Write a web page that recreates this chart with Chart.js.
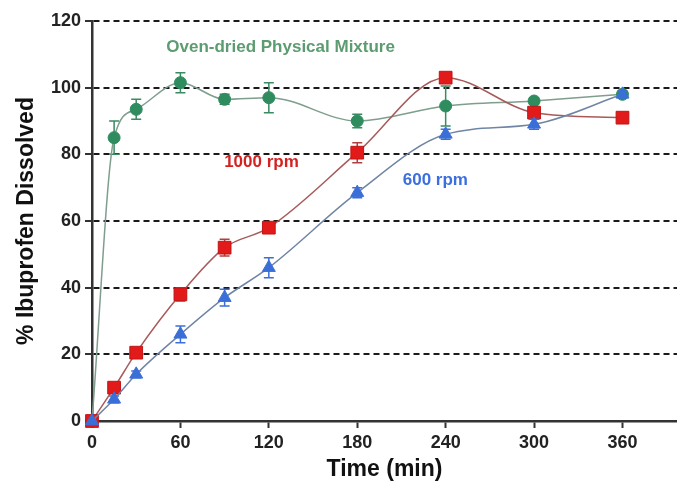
<!DOCTYPE html>
<html>
<head>
<meta charset="utf-8">
<script src="https://cdn.jsdelivr.net/npm/chart.js@4/dist/chart.umd.min.js"></script>
<style>
  html, body { margin: 0; padding: 0; background: #fff; }
  #chart { display: block; }
</style>
</head>
<body>
<canvas id="chart" width="677" height="484"></canvas>
<script>
// time points (min)
var times = [0, 15, 30, 60, 90, 120, 180, 240, 300, 360];
var xTicks = [0, 60, 120, 180, 240, 300, 360];
var yTicks = [0, 20, 40, 60, 80, 100, 120];

// % dissolved
var ovenDried = [0, 85, 93.5, 101.5, 96.5, 97, 90, 94.5, 96, 98];
var ovenDriedErr = [0, 5, 3, 3, 1.5, 4.5, 2, 6, 1, 0.5];
var rpm1000 = [0, 10, 20.5, 38, 52, 58, 80.5, 103, 92.5, 91];
var rpm1000Err = [0, 1, 1, 2, 2.5, 1, 3, 1, 1, 0.5];
var rpm600 = [0, 6.5, 14, 26, 37, 46, 68.5, 86, 89, 98];
var rpm600Err = [0, 1, 1, 2.5, 2.5, 3, 1.5, 1.5, 1.5, 1];

var labelsText = [
    {text: 'Oven-dried Physical Mixture', x: 128, y: 112.2, color: '#5c9c70'},
    {text: '1000 rpm', x: 115, y: 77.7, color: '#d42222'},
    {text: '600 rpm', x: 233, y: 72.3, color: '#3b6fe0'}
];

function toPoints(ys){
    var pts = [];
    for(var i=0; i<times.length; i++){
        pts.push({x: times[i], y: ys[i]});
    }
    return pts;
}

// draws the error bars of one dataset under its line and markers
var errorBars = {
    id: 'errorBars',
    beforeDatasetDraw: function(chart, args){
        var ds = chart.data.datasets[args.index];
        if(!ds.errors) return;
        var ctx = chart.ctx;
        var xs = chart.scales.x, ys = chart.scales.y;
        ctx.save();
        ctx.strokeStyle = ds.errorColor;
        ctx.lineWidth = 1.5;
        for(var i=0; i<ds.data.length; i++){
            var e = ds.errors[i];
            if(!e) continue;
            var px = xs.getPixelForValue(ds.data[i].x);
            var top = ys.getPixelForValue(ds.data[i].y + e);
            var bot = ys.getPixelForValue(ds.data[i].y - e);
            ctx.beginPath();
            ctx.moveTo(px, top); ctx.lineTo(px, bot);
            ctx.moveTo(px - 5, top); ctx.lineTo(px + 5, top);
            ctx.moveTo(px - 5, bot); ctx.lineTo(px + 5, bot);
            ctx.stroke();
        }
        ctx.restore();
    }
};

var seriesLabels = {
    id: 'seriesLabels',
    afterDraw: function(chart){
        var ctx = chart.ctx;
        ctx.save();
        ctx.font = 'bold 17px "Liberation Sans", Arial, sans-serif';
        ctx.textAlign = 'center';
        ctx.textBaseline = 'middle';
        labelsText.forEach(function(l){
            ctx.fillStyle = l.color;
            ctx.fillText(l.text, chart.scales.x.getPixelForValue(l.x), chart.scales.y.getPixelForValue(l.y));
        });
        ctx.restore();
    }
};

var tickFont = {family: '"Liberation Sans", Arial, sans-serif', size: 18, weight: 'bold'};
var titleFont = {family: '"Liberation Sans", Arial, sans-serif', size: 23, weight: 'bold'};

new Chart(document.getElementById('chart').getContext('2d'), {
    type: 'line',
    data: {
        datasets: [{
            label: '600 rpm',
            data: toPoints(rpm600),
            errors: rpm600Err,
            errorColor: '#3b6fd8',
            borderColor: '#7085a5',
            borderWidth: 1.5,
            pointStyle: 'triangle',
            pointRadius: 7.5,
            pointBackgroundColor: '#3b6fd8',
            pointBorderColor: '#3b6fd8',
            pointBorderWidth: 1,
            cubicInterpolationMode: 'monotone',
            clip: false,
            order: 0
        }, {
            label: '1000 rpm',
            data: toPoints(rpm1000),
            errors: rpm1000Err,
            errorColor: '#b04040',
            borderColor: '#a85a5a',
            borderWidth: 1.5,
            pointStyle: 'rect',
            pointRadius: 9,
            pointBackgroundColor: '#e21a1a',
            pointBorderColor: '#c01515',
            pointBorderWidth: 1,
            cubicInterpolationMode: 'monotone',
            clip: false,
            order: 1
        }, {
            label: 'Oven-dried Physical Mixture',
            data: toPoints(ovenDried),
            errors: ovenDriedErr,
            errorColor: '#3a8a62',
            borderColor: '#7f9e8e',
            borderWidth: 1.5,
            pointStyle: 'circle',
            pointRadius: 6,
            pointBackgroundColor: '#2f8c5f',
            pointBorderColor: '#2f8c5f',
            pointBorderWidth: 1,
            cubicInterpolationMode: 'monotone',
            clip: false,
            order: 2
        }]
    },
    options: {
        responsive: false,
        animation: false,
        events: [],
        layout: {autoPadding: false, padding: {top: 21, right: 0, left: 0, bottom: 0}},
        plugins: {
            legend: {display: false},
            tooltip: {enabled: false}
        },
        scales: {
            x: {
                type: 'linear',
                min: 0,
                max: 397,
                afterBuildTicks: function(scale){
                    scale.ticks = xTicks.map(function(v){ return {value: v}; });
                },
                afterFit: function(scale){
                    scale.height = 63;
                    scale.paddingRight = 0;
                    scale.paddingLeft = 0;
                },
                grid: {drawOnChartArea: false, drawTicks: true, tickLength: 7, tickColor: '#333', tickWidth: 2},
                border: {display: true, color: '#333', width: 2.5},
                ticks: {color: '#222', font: tickFont, padding: 4, maxRotation: 0, autoSkip: false},
                title: {display: true, text: 'Time (min)', color: '#111', font: titleFont, padding: {top: 0, bottom: 1}}
            },
            y: {
                min: 0,
                max: 120,
                afterBuildTicks: function(scale){
                    scale.ticks = yTicks.map(function(v){ return {value: v}; });
                },
                afterFit: function(scale){ scale.width = 92; },
                grid: {
                    color: function(c){ return c.tick && c.tick.value === 0 ? 'rgba(0,0,0,0)' : '#1a1a1a'; },
                    lineWidth: 2,
                    tickLength: 7,
                    tickColor: '#333',
                    tickWidth: 2,
                    tickBorderDash: []
                },
                border: {display: true, color: '#333', width: 2.5, dash: [6, 4]},
                ticks: {color: '#222', font: tickFont, padding: 4},
                title: {display: true, text: '% Ibuprofen Dissolved', color: '#111', font: titleFont, padding: {top: 13, bottom: 0}}
            }
        }
    },
    plugins: [errorBars, seriesLabels]
});
</script>
</body>
</html>
